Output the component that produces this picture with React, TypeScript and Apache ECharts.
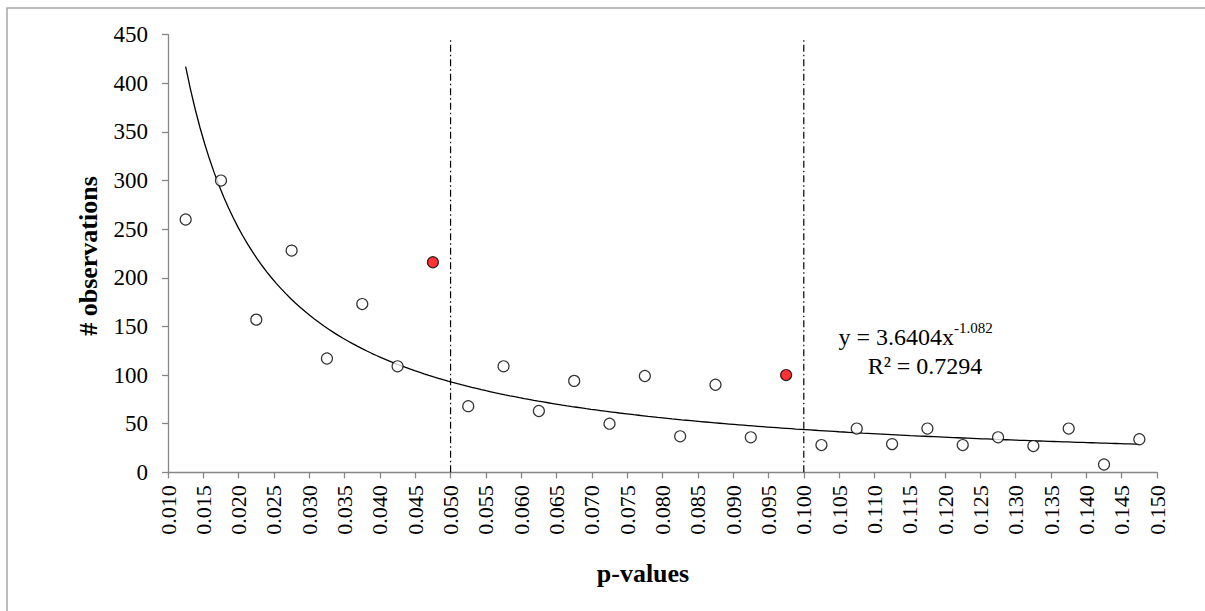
import React, { useEffect, useRef } from "react";
import * as echarts from "echarts";

const pValues = [
  0.0125, 0.0175, 0.0225, 0.0275, 0.0325, 0.0375, 0.0425, 0.0475, 0.0525, 0.0575,
  0.0625, 0.0675, 0.0725, 0.0775, 0.0825, 0.0875, 0.0925, 0.0975, 0.1025, 0.1075,
  0.1125, 0.1175, 0.1225, 0.1275, 0.1325, 0.1375, 0.1425, 0.1475,
];
const observations = [
  260, 300, 157, 228, 117, 173, 109, 216, 68, 109,
  63, 94, 50, 99, 37, 90, 36, 100, 28, 45,
  29, 45, 28, 36, 27, 45, 8, 34,
];
const highlightedP = [0.0475, 0.0975];
const thresholds = [0.05, 0.1];
const thresholdTop = 445;
const trendCoef = 3.6404;
const trendExp = -1.082;
const rSquared = "0.7294";
const yTicks = [0, 50, 100, 150, 200, 250, 300, 350, 400, 450];

const FONT = "'Liberation Serif', 'Times New Roman', serif";

export default function App() {
  const ref = useRef<HTMLDivElement>(null);

  useEffect(() => {
    if (!ref.current) return;
    const chart = echarts.init(ref.current, undefined, { renderer: "svg" });

    const normalPts: number[][] = [];
    const redPts: number[][] = [];
    pValues.forEach((p, i) => {
      if (highlightedP.includes(p)) redPts.push([p, observations[i]]);
      else normalPts.push([p, observations[i]]);
    });

    const x0 = pValues[0];
    const x1 = pValues[pValues.length - 1];
    const steps = 200;
    const trend: number[][] = [];
    for (let k = 0; k <= steps; k++) {
      const x = x0 + ((x1 - x0) * k) / steps;
      trend.push([x, trendCoef * Math.pow(x, trendExp)]);
    }

    const thresholdSeries = thresholds.map((t) => ({
      type: "line",
      data: [
        [t, 0],
        [t, thresholdTop],
      ],
      symbol: "none",
      lineStyle: { color: "#000", width: 1.2, type: [7, 3, 1.5, 3] },
      z: 2,
      silent: true,
    }));

    chart.setOption({
      animation: false,
      backgroundColor: "#fff",
      grid: { left: 168, right: 48, top: 34.7, bottom: 138.7, containLabel: false },
      xAxis: {
        type: "value",
        min: 0.01,
        max: 0.15,
        interval: 0.005,
        axisLine: { show: true, lineStyle: { color: "#868686", width: 1.3 } },
        axisTick: { show: true, length: 6, lineStyle: { color: "#868686", width: 1.3 } },
        splitLine: { show: false },
        axisLabel: {
          rotate: 90,
          margin: 13,
          fontFamily: FONT,
          fontSize: 22,
          color: "#000",
          formatter: (v: number) => v.toFixed(3),
        },
      },
      yAxis: {
        type: "value",
        min: yTicks[0],
        max: yTicks[yTicks.length - 1],
        interval: 50,
        axisLine: { show: true, lineStyle: { color: "#868686", width: 1.3 } },
        axisTick: { show: true, length: 6, lineStyle: { color: "#868686", width: 1.3 } },
        splitLine: { show: false },
        axisLabel: {
          margin: 20,
          fontFamily: FONT,
          fontSize: 23,
          color: "#000",
        },
      },
      series: [
        ...thresholdSeries,
        {
          type: "line",
          data: trend,
          symbol: "none",
          lineStyle: { color: "#000", width: 1.3 },
          z: 3,
          silent: true,
        },
        {
          type: "scatter",
          data: normalPts,
          symbol: "circle",
          symbolSize: 11,
          itemStyle: { color: "#fff", borderColor: "#000", borderWidth: 1.2 },
          z: 5,
        },
        {
          type: "scatter",
          data: redPts,
          symbol: "circle",
          symbolSize: 11,
          itemStyle: { color: "#FF0000", borderColor: "#000", borderWidth: 1.2 },
          z: 5,
        },
      ],
      graphic: [
        {
          type: "rect",
          shape: { x: 7, y: 8, width: 1250, height: 650 },
          style: { fill: "none", stroke: "#A6A6A6", lineWidth: 1.5 },
          silent: true,
          z: -1,
        },
        {
          type: "text",
          x: 88,
          y: 256,
          rotation: Math.PI / 2,
          style: {
            text: "# observations",
            font: `bold 26px ${FONT}`,
            fill: "#000",
            align: "center",
            verticalAlign: "middle",
          },
        },
        {
          type: "text",
          x: 643,
          y: 573,
          style: {
            text: "p-values",
            font: `bold 26px ${FONT}`,
            fill: "#000",
            align: "center",
            verticalAlign: "middle",
          },
        },
        {
          type: "text",
          x: 954,
          y: 337,
          style: {
            text: "y = " + trendCoef.toFixed(4) + "x",
            font: `24px ${FONT}`,
            fill: "#000",
            align: "right",
            verticalAlign: "middle",
          },
        },
        {
          type: "text",
          x: 954,
          y: 328,
          style: {
            text: trendExp.toFixed(3),
            font: `15px ${FONT}`,
            fill: "#000",
            align: "left",
            verticalAlign: "middle",
          },
        },
        {
          type: "text",
          x: 925,
          y: 366,
          style: {
            text: "R² = " + rSquared,
            font: `24px ${FONT}`,
            fill: "#000",
            align: "center",
            verticalAlign: "middle",
          },
        },
      ],
    });

    return () => chart.dispose();
  }, []);

  return (
    <div
      ref={ref}
      style={{ position: "fixed", left: 0, top: 0, width: 1205, height: 611, background: "#fff" }}
    />
  );
}
